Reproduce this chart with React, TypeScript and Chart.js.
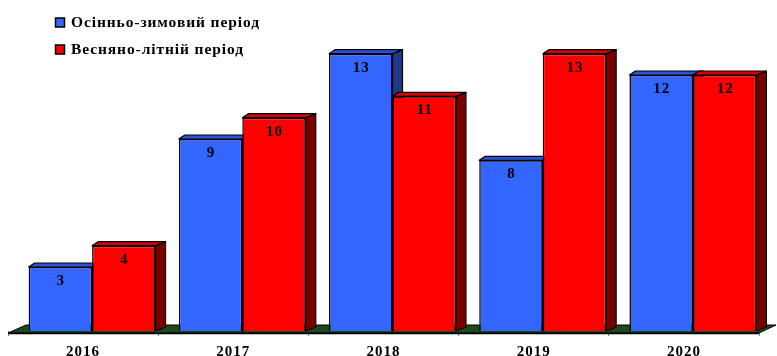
import React, { useEffect, useRef } from "react";
import { Chart, registerables } from "chart.js";

Chart.register(...registerables);

const categories = ["2016", "2017", "2018", "2019", "2020"];
const autumnWinter = [3, 9, 13, 8, 12];
const springSummer = [4, 10, 11, 13, 12];
const seriesLabels = ["Осінньо-зимовий період", "Весняно-літній період"];
const yMin = 0;
const yMax = 15;

const FRONT = ["#3366FF", "#FF0000"];
const TOP = ["#2B52D6", "#D40000"];
const SIDE = ["#1F3A8A", "#7A0000"];
const FLOOR = "#1D4A1D";
const SERIF = '"Liberation Serif", "Times New Roman", serif';

const BAR_DX = 10;
const BAR_DY = 4;
const SHIFT = 9;

const threeD = {
  id: "threeD",
  beforeDraw(chart: any) {
    (chart.ctx as any).letterSpacing = "1px";
  },
  afterDatasetsUpdate(chart: any) {
    chart.data.datasets.forEach((_d: any, di: number) => {
      const meta = chart.getDatasetMeta(di);
      meta.data.forEach((el: any) => {
        el.x += SHIFT;
      });
    });
  },
  beforeDatasetsDraw(chart: any) {
    const ctx = chart.ctx;
    const area = chart.chartArea;
    const base = chart.scales.y.getPixelForValue(0);
    // floor
    ctx.save();
    ctx.beginPath();
    ctx.moveTo(area.left, base + 2);
    ctx.lineTo(area.right, base + 2);
    ctx.lineTo(area.right + 17, base - 6);
    ctx.lineTo(area.left + 18, base - 6);
    ctx.closePath();
    ctx.fillStyle = FLOOR;
    ctx.fill();
    ctx.lineWidth = 1;
    ctx.strokeStyle = "#000";
    ctx.stroke();
    ctx.beginPath();
    ctx.moveTo(area.left, base + 2.5);
    ctx.lineTo(area.right, base + 2.5);
    ctx.lineWidth = 1.5;
    ctx.stroke();

    const items: any[] = [];
    chart.data.datasets.forEach((_d: any, di: number) => {
      const meta = chart.getDatasetMeta(di);
      meta.data.forEach((el: any) => items.push({ el, di }));
    });
    items.sort((a, b) => a.el.x - b.el.x);
    ctx.lineWidth = 1.2;
    ctx.strokeStyle = "#000";
    ctx.lineJoin = "round";
    items.forEach(({ el, di }) => {
      const x0 = el.x - el.width / 2;
      const x1 = el.x + el.width / 2;
      const y = el.y;
      const b = el.base;
      // side
      ctx.beginPath();
      ctx.moveTo(x1, y);
      ctx.lineTo(x1 + BAR_DX, y - BAR_DY);
      ctx.lineTo(x1 + BAR_DX, b - BAR_DY);
      ctx.lineTo(x1, b);
      ctx.closePath();
      ctx.fillStyle = SIDE[di];
      ctx.fill();
      ctx.stroke();
      // top
      ctx.beginPath();
      ctx.moveTo(x0, y);
      ctx.lineTo(x0 + BAR_DX * 0.6, y - BAR_DY);
      ctx.lineTo(x1 + BAR_DX, y - BAR_DY);
      ctx.lineTo(x1, y);
      ctx.closePath();
      ctx.fillStyle = TOP[di];
      ctx.fill();
      ctx.stroke();
    });
    ctx.restore();
  },
  afterDatasetsDraw(chart: any) {
    const ctx = chart.ctx;
    ctx.save();
    ctx.letterSpacing = "1px";
    ctx.font = "bold 15px " + SERIF;
    ctx.fillStyle = "#000";
    ctx.textAlign = "center";
    ctx.textBaseline = "middle";
    chart.data.datasets.forEach((ds: any, di: number) => {
      const meta = chart.getDatasetMeta(di);
      meta.data.forEach((el: any, i: number) => {
        ctx.fillText(String(ds.data[i]), el.x + 0.5, el.y + 14);
      });
    });
    ctx.restore();
  },
  afterDraw(chart: any) {
    const ctx = chart.ctx;
    ctx.save();
    ctx.letterSpacing = "0.9px";
    ctx.font = "bold 15.5px " + SERIF;
    ctx.textBaseline = "middle";
    ctx.textAlign = "left";
    chart.data.datasets.forEach((ds: any, di: number) => {
      const cy = 22.5 + di * 27;
      ctx.fillStyle = FRONT[di];
      ctx.fillRect(55.5, cy - 4.5, 9, 9);
      ctx.lineWidth = 1.5;
      ctx.strokeStyle = "#000";
      ctx.strokeRect(55.5, cy - 4.5, 9, 9);
      ctx.fillStyle = "#000";
      ctx.fillText(ds.label, 71, cy);
    });
    ctx.restore();
  },
};

export default function App() {
  const ref = useRef<HTMLCanvasElement | null>(null);
  useEffect(() => {
    document.body.style.margin = "0";
    const chart = new Chart(ref.current as HTMLCanvasElement, {
      type: "bar",
      data: {
        labels: categories,
        datasets: [
          {
            label: seriesLabels[0],
            data: autumnWinter,
            backgroundColor: FRONT[0],
            borderColor: "#000",
            borderWidth: 1.5,
          },
          {
            label: seriesLabels[1],
            data: springSummer,
            backgroundColor: FRONT[1],
            borderColor: "#000",
            borderWidth: 1.5,
          },
        ],
      },
      options: {
        responsive: false,
        animation: false,
        layout: { padding: { left: 8, right: 18, top: 11, bottom: 0 } },
        datasets: { bar: { categoryPercentage: 0.845, barPercentage: 1 } },
        plugins: { legend: { display: false }, tooltip: { enabled: false } },
        scales: {
          x: {
            offset: true,
            grid: {
              display: true,
              drawOnChartArea: false,
              offset: true,
              tickLength: 5,
              color: "#808080",
            },
            border: { display: false },
            ticks: {
              padding: 7,
              color: "#000",
              font: { family: SERIF, size: 15, weight: "bold" },
            },
            afterFit(scale: any) {
              scale.height = 25;
            },
          },
          y: { display: false, min: yMin, max: yMax },
        },
      },
      plugins: [threeD],
    });
    return () => chart.destroy();
  }, []);
  return (
    <div style={{ position: "absolute", left: 0, top: 0, width: 777, height: 356, background: "#fff" }}>
      <canvas ref={ref} width={777} height={356} style={{ display: "block" }} />
    </div>
  );
}
